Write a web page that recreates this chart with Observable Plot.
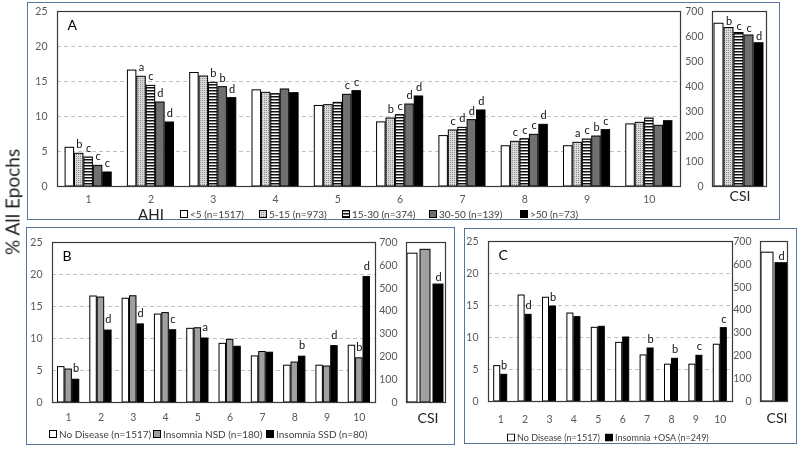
<!DOCTYPE html>
<html><head><meta charset="utf-8">
<script src="https://cdn.jsdelivr.net/npm/d3@7"></script>
<script src="https://cdn.jsdelivr.net/npm/@observablehq/plot@0.6"></script>
<style>
body{margin:0;background:#fff;}
#root{position:relative;width:800px;height:449px;overflow:hidden;background:#fff;font-family:Lato,sans-serif;}
.panel{position:absolute;border:1.5px solid #56789f;box-sizing:border-box;}
.lbl{position:absolute;transform:translate(-50%,-50%);white-space:nowrap;color:#222;}
.leg{position:absolute;display:flex;align-items:center;font-size:10px;color:#404040;white-space:nowrap;transform:translateY(-50%);line-height:1;}
#root svg text{-webkit-font-smoothing:antialiased;}
</style></head><body><div id="root"></div>
<svg width="0" height="0" style="position:absolute">
  <defs>
    <pattern id="dots" width="2" height="2" patternUnits="userSpaceOnUse">
      <rect width="2" height="2" fill="#dadada"/>
      <rect width="1" height="1" fill="#8e8e8e"/>
    </pattern>
    <pattern id="stripes" width="3" height="3" patternUnits="userSpaceOnUse">
      <rect width="3" height="3" fill="#fff"/>
      <rect width="3" height="1.5" fill="#111"/>
    </pattern>
  </defs>
</svg>
<script>
// ---------- data ----------
const groups = [1, 2, 3, 4, 5, 6, 7, 8, 9, 10];
const yTicksMain = [0, 5, 10, 15, 20, 25];
const gridMain = [5, 10, 15, 20];
const csiTicks = [0, 100, 200, 300, 400, 500, 600, 700];

// shared reference group (No Disease / AHI <5, n=1517)
const noDisease = [5.53, 16.56, 16.21, 13.74, 11.51, 9.16, 7.2, 5.75, 5.75, 8.87];
const noDiseaseCSI = 651;

// Panel A: AHI categories
const seriesA = ["<5 (n=1517)", "5-15 (n=973)", "15-30 (n=374)", "30-50 (n=139)", ">50 (n=73)"];
const ahi5to15 = [4.67, 15.67, 15.71, 13.38, 11.62, 9.71, 8.0, 6.38, 6.24, 9.1];
const ahi15to30 = [4.14, 14.38, 14.81, 13.19, 11.95, 10.19, 8.38, 6.76, 6.71, 9.71];
const ahi30to50 = [2.95, 12.0, 14.19, 13.86, 13.1, 11.71, 9.48, 7.38, 7.14, 8.67];
const ahiOver50 = [2.0, 9.14, 12.62, 13.33, 13.62, 12.86, 10.86, 8.81, 8.05, 9.33];
const lettersNone = ["", "", "", "", "", "", "", "", "", ""];
const letters5to15 = ["b", "a", "", "", "", "b", "c", "c", "a", ""];
const letters15to30 = ["c", "c", "b", "", "", "c", "d", "c", "c", ""];
const letters30to50 = ["c", "d", "b", "", "c", "d", "d", "c", "b", ""];
const lettersOver50 = ["c", "d", "d", "", "c", "d", "d", "d", "c", ""];
const csiA = [noDiseaseCSI, 634, 614, 604, 573];
const csiLettersA = ["", "b", "c", "c", "d"];

// Panel B: insomnia sleep duration
const seriesB = ["No Disease (n=1517)", "Insomnia NSD (n=180)", "Insomnia SSD (n=80)"];
const insomniaNSD = [5.15, 16.4, 16.6, 13.97, 11.6, 9.79, 7.89, 6.24, 5.62, 6.9];
const insomniaSSD = [3.56, 11.24, 12.2, 11.29, 10.0, 8.71, 7.78, 7.16, 8.81, 19.6];
const lettersNSD = ["", "", "", "", "", "", "", "", "", "b"];
const lettersSSD = ["b", "d", "d", "c", "a", "", "", "b", "d", "d"];
const csiB = [noDiseaseCSI, 668, 516];
const csiLettersB = ["", "", "d"];

// Panel C: insomnia + OSA
const seriesC = ["No Disease (n=1517)", "Insomnia +OSA (n=249)"];
const insomniaOSA = [4.17, 13.54, 14.84, 13.18, 11.67, 10.0, 8.28, 6.67, 7.14, 11.46];
const lettersOSA = ["b", "d", "b", "", "", "", "b", "b", "c", "c"];
const csiC = [noDiseaseCSI, 605];
const csiLettersC = ["", "d"];

// ---------- styles ----------
const fillsA = ["#ffffff", "url(#dots)", "url(#stripes)", "#707070", "#000000"];
const fillsB = ["#ffffff", "#a0a0a0", "#000000"];
const fillsC = ["#ffffff", "#000000"];

const root = document.getElementById("root");

function place(el, left, top) {
  el.style.position = "absolute";
  el.style.left = left + "px";
  el.style.top = top + "px";
  root.appendChild(el);
}

function panel(l, t, r, b) {
  const d = document.createElement("div");
  d.className = "panel";
  d.style.width = (r - l) + "px";
  d.style.height = (b - t) + "px";
  place(d, l, t);
}

function buildRows(valueArrays, letterArrays) {
  const out = [];
  valueArrays.forEach((vals, s) => vals.forEach((v, i) =>
    out.push({group: groups[i], s, value: v, letter: letterArrays[s][i]})));
  return out;
}

const baseStyle = {fontFamily: "Lato, sans-serif", fontSize: "10.5px", color: "#595959", background: "transparent", overflow: "visible", willChange: "transform"};

function mainChart(o) {
  const n = o.n;
  const cx = d => d.group + (d.s - (n - 1) / 2) * o.step;
  const svg = Plot.plot({
    width: o.width, height: o.height,
    marginLeft: o.mL, marginRight: o.mR, marginTop: o.mT, marginBottom: o.mB,
    style: baseStyle,
    x: {domain: [0.5, 10.5], ticks: groups, tickSize: 0, tickPadding: o.xPad, label: null, tickFormat: d => String(d)},
    y: {domain: [0, 25], ticks: yTicksMain, tickSize: 0, tickPadding: 10, label: null},
    color: {type: "identity"},
    marks: [
      Plot.ruleY(gridMain, {stroke: "#c2c2c2", strokeDasharray: "4,3"}),
      Plot.rect(o.rows, {x1: d => cx(d) - o.barW / 2, x2: d => cx(d) + o.barW / 2, y1: 0, y2: "value",
        fill: d => o.fills[d.s], stroke: "#000", strokeWidth: 1}),
      Plot.text(o.rows.filter(d => d.letter), {x: cx, y: "value", text: "letter", dy: o.letterDy, fill: "#111", fontSize: 11}),
      Plot.text([o.label], {text: d => d, frameAnchor: "top-left", dx: 10, dy: 9, fontSize: 14, fill: "#000"}),
      Plot.frame({stroke: "#3a3a3a", strokeWidth: 1.2})
    ]
  });
  place(svg, o.left, o.top);
}

function csiChart(o) {
  const rows = o.values.map((v, s) => ({s, value: v, letter: o.letters[s]}));
  const svg = Plot.plot({
    width: o.width, height: o.height,
    marginLeft: o.mL, marginRight: o.mR, marginTop: o.mT, marginBottom: o.mB,
    style: baseStyle,
    x: {type: "band", domain: d3.range(o.values.length), paddingInner: o.pi, paddingOuter: o.po, axis: null},
    y: {domain: [0, 700], ticks: csiTicks, tickSize: 0, tickPadding: 9, label: null},
    color: {type: "identity"},
    marks: [
      Plot.barY(rows, {x: "s", y1: 0, y2: "value", fill: d => o.fills[d.s], stroke: "#000", strokeWidth: 1}),
      Plot.text(rows.filter(d => d.letter), {x: "s", y: "value", text: "letter", dy: -7, fill: "#111", fontSize: 11}),
      Plot.frame({stroke: "#3a3a3a", strokeWidth: 1.2})
    ]
  });
  place(svg, o.left, o.top);
}

function text(str, x, y, size) {
  const d = document.createElement("div");
  d.className = "lbl";
  d.style.fontSize = size + "px";
  d.textContent = str;
  d.style.left = x + "px";
  d.style.top = y + "px";
  root.appendChild(d);
  return d;
}

function legend(names, fills, xs, y, size) {
  names.forEach((name, i) => {
    const d = document.createElement("div");
    d.className = "leg";
    d.style.fontSize = size + "px";
    const ns = "http://www.w3.org/2000/svg";
    const sw = document.createElementNS(ns, "svg");
    sw.setAttribute("width", 8); sw.setAttribute("height", 8);
    const r = document.createElementNS(ns, "rect");
    r.setAttribute("x", 0.5); r.setAttribute("y", 0.5);
    r.setAttribute("width", 7); r.setAttribute("height", 7);
    r.setAttribute("fill", fills[i]); r.setAttribute("stroke", "#000");
    sw.appendChild(r);
    const t = document.createElement("span");
    t.style.marginLeft = "2px";
    t.textContent = name;
    d.appendChild(sw); d.appendChild(t);
    d.style.left = xs[i] + "px";
    d.style.top = y + "px";
    root.appendChild(d);
  });
}

// panel frames
panel(27, 2, 780, 220);
panel(26, 227, 455, 445);
panel(464, 228, 797, 444);

// Panel A
mainChart({
  rows: buildRows([noDisease, ahi5to15, ahi15to30, ahi30to50, ahiOver50],
                  [lettersNone, letters5to15, letters15to30, letters30to50, lettersOver50]),
  n: 5, fills: fillsA, step: 0.151, barW: 0.136, letterDy: -9, label: "A",
  left: 20, top: 0, width: 670, height: 210, mL: 37, mR: 10, mT: 11, mB: 24, xPad: 9
});
csiChart({values: csiA, letters: csiLettersA, fills: fillsA, pi: 0.08, po: 0.02,
  left: 680, top: 0, width: 92, height: 210, mL: 32, mR: 6, mT: 11, mB: 24});

// Panel B
mainChart({
  rows: buildRows([noDisease, insomniaNSD, insomniaSSD], [lettersNone, lettersNSD, lettersSSD]),
  n: 3, fills: fillsB, step: 0.229, barW: 0.2, letterDy: -11, label: "B",
  left: 10, top: 230, width: 375, height: 200, mL: 42, mR: 10, mT: 12, mB: 28, xPad: 11
});
csiChart({values: csiB, letters: csiLettersB, fills: fillsB, pi: 0.2, po: 0.03,
  left: 375, top: 230, width: 75, height: 200, mL: 31, mR: 5, mT: 12, mB: 28});

// Panel C
mainChart({
  rows: buildRows([noDisease, insomniaOSA], [lettersNone, lettersOSA]),
  n: 2, fills: fillsC, step: 0.287, barW: 0.246, letterDy: -9, label: "C",
  left: 450, top: 230, width: 292, height: 200, mL: 38, mR: 10, mT: 11, mB: 29, xPad: 14
});
csiChart({values: csiC, letters: csiLettersC, fills: fillsC, pi: 0.15, po: 0.03,
  left: 730, top: 230, width: 62, height: 200, mL: 30, mR: 5, mT: 11, mB: 29});

// labels
const yl = text("% All Epochs", 12, 202, 19);
yl.style.transform = "translate(-50%,-50%) rotate(-90deg)";
text("AHI", 151, 214, 15);
text("CSI", 740, 195, 14);
text("CSI", 428, 417, 14);
text("CSI", 777, 417, 14);

legend(seriesA, fillsA, [180, 259, 342, 429, 520], 214, 10);
legend(seriesB, fillsB, [49, 153, 266], 434, 10);
legend(seriesC, fillsC, [507, 605], 437, 9);
</script></body></html>
